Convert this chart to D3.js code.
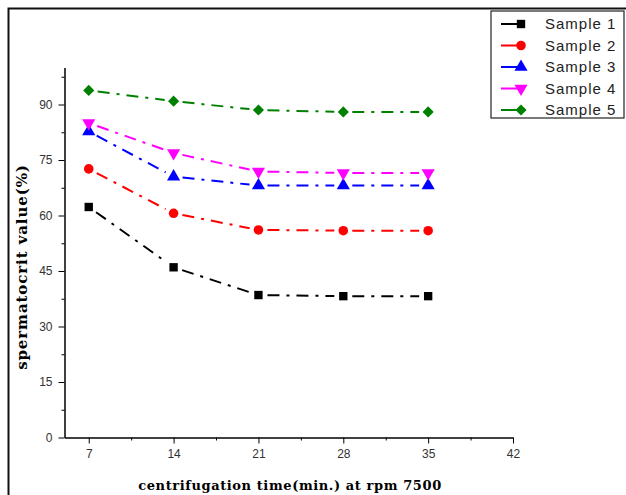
<!DOCTYPE html>
<html>

<head>
  <meta charset="UTF-8">
  <script src="https://d3js.org/d3.v7.js"></script>
  <style>
    body { margin: 0; background: #fff; }
    .tick text { font-family: "Liberation Sans", Arial, sans-serif; font-size: 12px; fill: #333; }
  </style>
</head>

<body>
  <div id="chart"></div>

  <script>
    // data

    const times = [7, 14, 21, 28, 35];
    const sampleNames = ['Sample 1', 'Sample 2', 'Sample 3', 'Sample 4', 'Sample 5'];
    const sample1 = [62.3, 46.0, 38.5, 38.2, 38.2];
    const sample2 = [72.6, 60.6, 56.1, 55.9, 55.9];
    const sample3 = [82.7, 70.5, 68.1, 68.1, 68.1];
    const sample4 = [85.0, 76.9, 71.9, 71.5, 71.5];
    const sample5 = [93.8, 90.9, 88.5, 88.0, 88.0];
    const xTicks = [7, 14, 21, 28, 35, 42];
    const yTicks = [0, 15, 30, 45, 60, 75, 90];

    const series = [sample1, sample2, sample3, sample4, sample5].map((vals, i) => ({
      name: sampleNames[i],
      values: vals.map((v, j) => ({ t: times[j], v: v }))
    }));

    // set up

    const W = 626, H = 495;
    const svg = d3.select('#chart')
      .append('svg')
        .attr('width', W)
        .attr('height', H);

    // frame lines (left + top)
    svg.append('path')
        .attr('d', `M8.5,${H} V8.5 H${W}`)
        .attr('fill', 'none')
        .attr('stroke', '#111')
        .attr('stroke-width', 2);

    // scales

    const x = d3.scaleLinear()
        .domain([5, 42])
        .range([64.5, 513]);

    const y = d3.scaleLinear()
        .domain([0, 100])
        .range([437.5, 67.5]);

    const colors = ['#000000', '#ff0000', '#0000ff', '#ff00ff', '#008000'];
    const symbols = [d3.symbolSquare, d3.symbolCircle, d3.symbolTriangle, d3.symbolTriangle, d3.symbolSquare];
    const symSize = [70, 72, 75, 75, 62];
    const symRotate = [0, 0, 0, 180, 45];

    // axes

    const xMinor = d3.range(10.5, 42, 7);
    const yMinor = d3.range(7.5, 100, 15);

    svg.append('g')
        .attr('transform', `translate(0,${y(0)})`)
        .call(d3.axisBottom(x).tickValues(xMinor).tickSize(3).tickFormat(''))
        .call(g => g.select('.domain').remove());

    svg.append('g')
        .attr('transform', `translate(0,${y(0)})`)
        .call(d3.axisBottom(x).tickValues(xTicks).tickSize(6).tickSizeOuter(0).tickPadding(6))
        .call(g => g.select('.domain').attr('stroke-width', 1.5));

    svg.append('g')
        .attr('transform', `translate(${x(5)},0)`)
        .call(d3.axisLeft(y).tickValues(yMinor).tickSize(3).tickFormat(''))
        .call(g => g.select('.domain').remove());

    svg.append('g')
        .attr('transform', `translate(${x(5)},0)`)
        .call(d3.axisLeft(y).tickValues(yTicks).tickSize(6).tickSizeOuter(0).tickPadding(6))
        .call(g => g.select('.domain').attr('stroke-width', 1.5));

    // axis titles

    svg.append('text')
        .attr('x', 290)
        .attr('y', 490)
        .attr('text-anchor', 'middle')
        .style('font-family', '"DejaVu Serif", serif')
        .style('font-weight', 'bold')
        .style('font-size', '13px')
        .style('letter-spacing', '0.6px')
        .text('centrifugation time(min.) at rpm 7500');

    svg.append('text')
        .attr('transform', 'translate(27,267) rotate(-90)')
        .attr('text-anchor', 'middle')
        .style('font-family', '"DejaVu Serif", serif')
        .style('font-weight', 'bold')
        .style('font-size', '15px')
        .style('letter-spacing', '0.9px')
        .text('spermatocrit value(%)');

    // lines, drawn segment by segment with a gap at each symbol

    const gap = 9;
    const plot = svg.append('g');

    series.forEach((s, i) => {
      const g = plot.append('g');
      const pts = s.values.map(d => [x(d.t), y(d.v)]);
      d3.pairs(pts).forEach(([a, b]) => {
        const dx = b[0] - a[0], dy = b[1] - a[1];
        const len = Math.hypot(dx, dy);
        const ux = dx / len, uy = dy / len;
        g.append('line')
            .attr('x1', a[0] + ux * gap)
            .attr('y1', a[1] + uy * gap)
            .attr('x2', b[0] - ux * gap)
            .attr('y2', b[1] - uy * gap)
            .attr('stroke', colors[i])
            .attr('stroke-width', 2)
            .attr('stroke-dasharray', '12,7,3,7');
      });
      g.selectAll('path')
        .data(s.values)
        .join('path')
          .attr('d', d3.symbol().type(symbols[i]).size(symSize[i]))
          .attr('transform', d => `translate(${x(d.t)},${y(d.v)}) rotate(${symRotate[i]})`)
          .attr('fill', colors[i]);
    });

    // legend

    const legend = svg.append('g');
    legend.append('rect')
        .attr('x', 491)
        .attr('y', 11)
        .attr('width', 133)
        .attr('height', 107)
        .attr('fill', '#fff')
        .attr('stroke', '#222')
        .attr('stroke-width', 1.2);

    series.forEach((s, i) => {
      const ly = 24 + i * 21.5;
      const row = legend.append('g');
      row.append('line')
          .attr('x1', 501).attr('x2', 518)
          .attr('y1', ly).attr('y2', ly)
          .attr('stroke', colors[i])
          .attr('stroke-width', 2);
      row.append('path')
          .attr('d', d3.symbol().type(symbols[i]).size(symSize[i]))
          .attr('transform', `translate(521,${ly}) rotate(${symRotate[i]})`)
          .attr('fill', colors[i]);
      row.append('text')
          .attr('x', 545)
          .attr('y', ly + 5)
          .style('font-family', '"Liberation Sans", Arial, sans-serif')
          .style('font-size', '15px')
          .style('letter-spacing', '1px')
          .attr('fill', '#222')
          .text(s.name);
    });
  </script>
</body>

</html>
